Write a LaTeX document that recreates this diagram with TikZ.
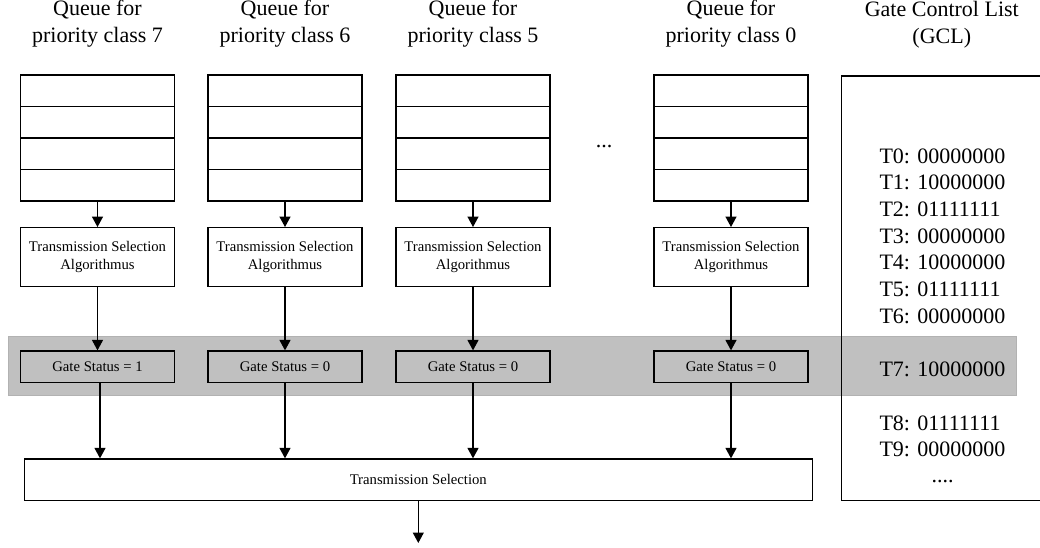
\documentclass[tikz,border=0pt]{standalone}
\usepackage{fontspec}
\setmainfont{Liberation Serif}
\usetikzlibrary{arrows.meta}
\definecolor{bandgray}{HTML}{C0C0C0}
\begin{document}
\begin{tikzpicture}[x=1pt,y=-1pt,
  box/.style={draw, line width=1.3pt, inner sep=0pt, align=center},
  queue/.style={box, minimum width=154pt, minimum height=126pt,
    path picture={
      \foreach \k in {1,2,3}
        \draw[line width=1.3pt]
          ([yshift=-31.5*\k pt]path picture bounding box.north west) --
          ([yshift=-31.5*\k pt]path picture bounding box.north east);}},
  tsa/.style={box, minimum width=154pt, minimum height=59pt,
    font=\fontsize{14.7}{17.8}\selectfont},
  gate/.style={box, minimum width=154pt, minimum height=31.3pt,
    font=\fontsize{14.7}{17.8}\selectfont},
  head/.style={align=center, inner sep=0pt,
    font=\fontsize{22}{26.5}\selectfont},
  gclentry/.style={inner sep=0pt, anchor=base west,
    font=\fontsize{22}{26.5}\selectfont},
  arr/.style={line width=1.3pt, -{Triangle[length=10.5pt,width=11pt]}}
]
\useasboundingbox (0,0) rectangle (1040,547);

% shaded row marking the active GCL entry
\node[fill=bandgray, draw=black!30, line width=0.6pt, inner sep=0pt,
      minimum width=1008.4pt, minimum height=59pt] (band) at (512.5,366.2) {};

% gate control list frame (runs off the right edge)
\node[draw, line width=1.3pt, inner sep=0pt, minimum width=203pt,
      minimum height=424.7pt] (gcl) at (943.2,288.35) {};
\node[head] (gclhead) at (941.8,24.5) {Gate Control List\\(GCL)};

% common transmission selection stage
\node[box, minimum width=788pt, minimum height=41.7pt,
      font=\fontsize{14.7}{17.8}\selectfont] (ts) at (418.3,479.85)
      {Transmission Selection};
\coordinate (out) at (418.3,543);
\draw[arr] (ts) -- (out);

% one column per priority queue
\foreach \n/\x/\s/\dx in {7/97.5/1/2.5, 6/285/0/0, 5/473/0/0, 0/731/0/0} {
  \node[head] (h\n) at (\x,23.5) {Queue for\\priority class \n};
  \node[queue] (q\n) at (\x,138) {};
  \node[tsa] (a\n) at (\x,257.2) {Transmission Selection\\Algorithmus};
  \node[gate] (g\n) at (\x,366.7) {Gate Status = \s};
  \draw[arr] (q\n) -- (a\n);
  \draw[arr] (a\n) -- (g\n);
  \draw[arr] ([xshift=\dx pt]g\n.south) -- ([xshift=\dx pt]g\n.south |- ts.north);
}

\node[inner sep=0pt, anchor=base, font=\fontsize{22}{26.5}\selectfont]
  (dots) at (604,147.5) {...};

% list entries
\foreach \k/\y/\v in {0/163/00000000, 1/189.7/10000000, 2/216.3/01111111,
    3/243/00000000, 4/269.7/10000000, 5/296.3/01111111, 6/323.3/00000000,
    7/376.7/10000000, 8/430/01111111, 9/456.7/00000000}
  \node[gclentry] (t\k) at (879.3,\y) {T\k: \v};
\node[inner sep=0pt, anchor=base, font=\fontsize{22}{26.5}\selectfont]
  (tmore) at (942.7,482.7) {....};
\end{tikzpicture}
\end{document}
